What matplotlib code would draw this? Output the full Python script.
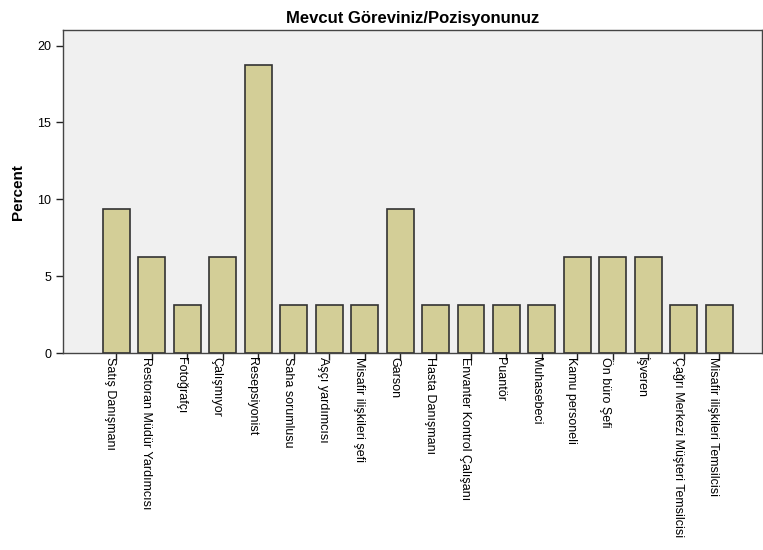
import matplotlib.pyplot as plt

plt.rcParams['font.family'] = ['Liberation Sans', 'DejaVu Sans']

categories = ['Satış Danışmanı', 'Restoran Müdür Yardımcısı', 'Fotoğrafçı', 'Çalışmıyor',
              'Resepsiyonist', 'Saha sorumlusu', 'Aşçı yardımcısı', 'Misafir ilişkileri şefi',
              'Garson', 'Hasta Danışmanı', 'Envanter Kontrol Çalışanı', 'Puantör',
              'Muhasebeci', 'Kamu personeli', 'Ön büro Şefi', 'İşveren',
              'Çağrı Merkezi Müşteri Temsilcisi', 'Misafir ilişkileri Temsilcisi']
percent = [9.375, 6.25, 3.125, 6.25, 18.75, 3.125, 3.125, 3.125, 9.375,
           3.125, 3.125, 3.125, 3.125, 6.25, 6.25, 6.25, 3.125, 3.125]

fig = plt.figure(figsize=(7.63, 5.5), dpi=100)
ax = fig.add_axes([0.0826, 0.358, 0.916, 0.587])
ax.set_facecolor('#F0F0F0')

x = list(range(len(categories)))
ax.bar(x, percent, width=0.76, color='#D3CE97', edgecolor='#333333', linewidth=1.2, zorder=2)

ax.set_xlim(-1.5, 18.2)
ax.set_ylim(0, 21)
ax.set_yticks([0, 5, 10, 15, 20])
ax.set_xticks(x)
ax.set_xticklabels(categories, rotation=-90, fontsize=9, va='top', ha='right',
                   rotation_mode='default')
ax.tick_params(axis='both', direction='out', length=5, width=1, color='#222222', labelsize=9)
ax.tick_params(axis='x', pad=-2)

for s in ax.spines.values():
    s.set_color('#444444')
    s.set_linewidth(1)

ax.set_ylabel('Percent', fontsize=11, fontweight='bold', labelpad=9)
ax.set_title('Mevcut Göreviniz/Pozisyonunuz', fontsize=12, fontweight='bold', pad=5)

fig.savefig('out.png', dpi=100)
